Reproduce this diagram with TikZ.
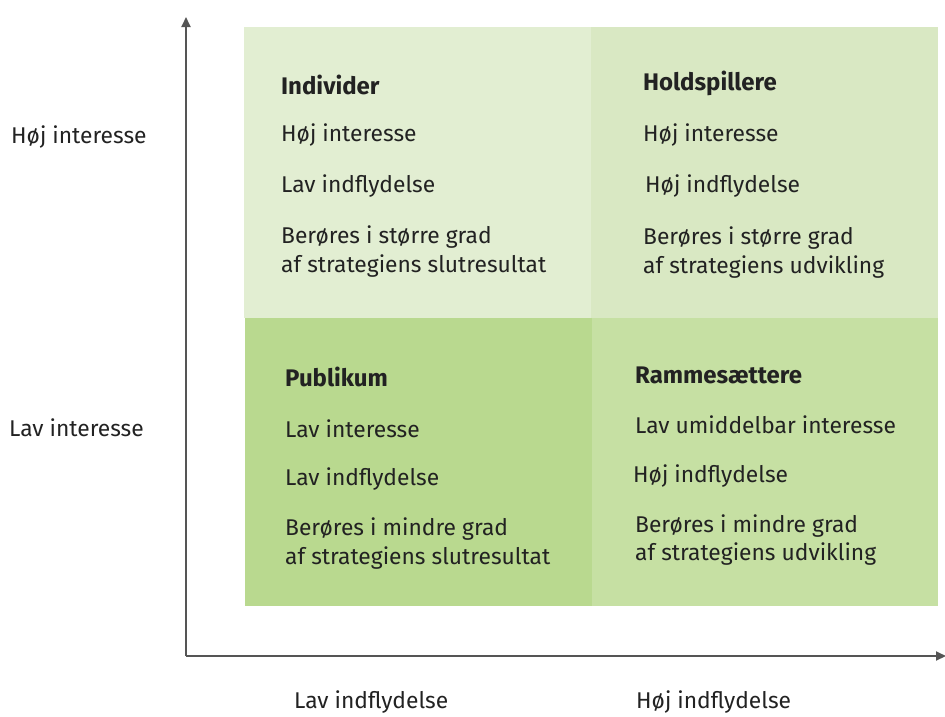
\documentclass[tikz,border=0pt]{standalone}
\usepackage{fontspec}
\setmainfont{Fira Sans}
\usetikzlibrary{arrows.meta}
\definecolor{cTL}{HTML}{E2EED2}
\definecolor{cTR}{HTML}{D9E8C3}
\definecolor{cBL}{HTML}{B9D98F}
\definecolor{cBR}{HTML}{C6E0A3}
\definecolor{axis}{HTML}{555555}
\definecolor{txt}{HTML}{222222}
\tikzset{
  quad/.style={draw=none},
  lbl/.style={anchor=west, inner sep=0pt, text=txt, font=\fontsize{22.8}{27}\selectfont},
  ttl/.style={lbl, font=\fontsize{24}{28}\selectfont\bfseries},
  ax/.style={draw=axis, line width=1.8pt, -{Triangle[length=10pt,width=9pt]}}
}
\begin{document}
\begin{tikzpicture}[x=1pt,y=-1pt]
\useasboundingbox (0,0) rectangle (945,716);
% quadrants
\fill[cTL] (244,27) rectangle (591,318);
\fill[cTR] (591,27) rectangle (938,318);
\fill[cBL] (245,318) rectangle (592,606);
\fill[cBR] (592,318) rectangle (938,606);
% axes
\coordinate (o) at (186,656);
\coordinate (yt) at (186,17);
\coordinate (xt) at (946,656);
\draw[ax] (o) -- (yt);
\draw[ax] (o) -- (xt);
% axis labels
\node[lbl] (hi) at (11,137) {Høj interesse};
\node[lbl] (li) at (9,428) {Lav interesse};
\node[lbl] (linf) at (294,702) {Lav indflydelse};
\node[lbl] (hinf) at (636,702) {Høj indflydelse};
% TL
\node[ttl] (t1) at (281,85) {Individer};
\node[lbl] (a1) at (281,135) {Høj interesse};
\node[lbl] (a2) at (281,186) {Lav indflydelse};
\node[lbl] (a3) at (281,237) {Berøres i større grad};
\node[lbl] (a4) at (281,266) {af strategiens slutresultat};
% TR
\node[ttl] (t2) at (643,83) {Holdspillere};
\node[lbl] (b1) at (643,135) {Høj interesse};
\node[lbl] (b2) at (645,186) {Høj indflydelse};
\node[lbl] (b3) at (643,238) {Berøres i større grad};
\node[lbl] (b4) at (643,267) {af strategiens udvikling};
% BL
\node[ttl] (t3) at (285,377) {Publikum};
\node[lbl] (c1) at (285,429) {Lav interesse};
\node[lbl] (c2) at (285,479) {Lav indflydelse};
\node[lbl] (c3) at (285,529) {Berøres i mindre grad};
\node[lbl] (c4) at (285,558) {af strategiens slutresultat};
% BR
\node[ttl] (t4) at (635,375) {Rammesættere};
\node[lbl] (d1) at (635,425) {Lav umiddelbar interesse};
\node[lbl] (d2) at (633,476) {Høj indflydelse};
\node[lbl] (d3) at (635,526) {Berøres i mindre grad};
\node[lbl] (d4) at (635,554) {af strategiens udvikling};
\end{tikzpicture}
\end{document}
